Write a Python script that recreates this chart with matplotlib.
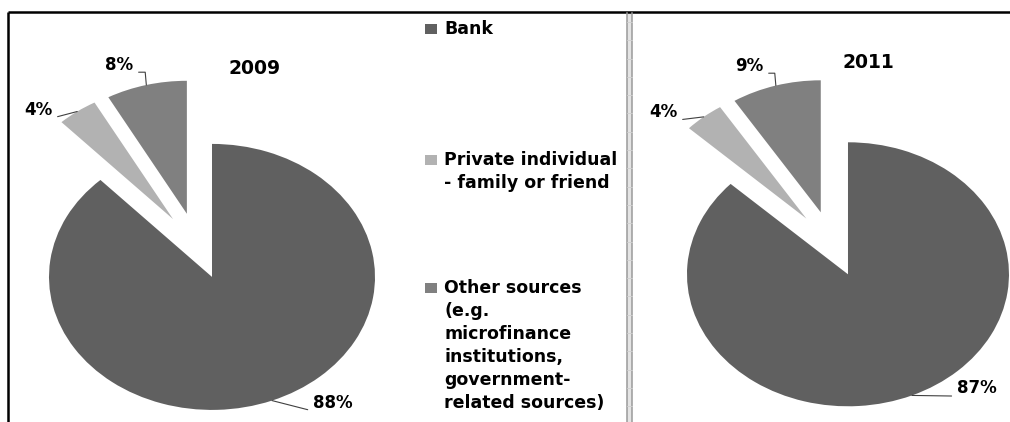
import matplotlib.pyplot as plt
import numpy as np
from matplotlib.patches import Rectangle

# funding sources, shares in percent
categories = ['Bank',
              'Private individual\n- family or friend',
              'Other sources\n(e.g.\nmicrofinance\ninstitutions,\ngovernment-\nrelated sources)']
years = ['2009', '2011']
shares_2009 = [88, 4, 8]
shares_2011 = [87, 4, 9]
colors = ['#606060', '#b2b2b2', '#808080']

W, H = 1010, 422
FONT = 'DejaVu Sans'

fig = plt.figure(figsize=(W / 100, H / 100), dpi=100)
fig.patch.set_facecolor('white')

# overlay in pixel units (y down) for frame and legend
base = fig.add_axes([0, 0, 1, 1])
base.set_xlim(0, W)
base.set_ylim(H, 0)
base.axis('off')

base.plot([8, W], [12, 12], color='black', lw=1.8, solid_capstyle='butt')
base.plot([8, 8], [12, H], color='black', lw=1.8, solid_capstyle='butt')

# divider between the two charts
base.add_patch(Rectangle((627, 13), 4.5, H - 13, facecolor='#e4e4e4', edgecolor='none'))
base.plot([627, 627], [13, H], color='#9a9a9a', lw=1.1)
base.plot([631.5, 631.5], [13, H], color='#9a9a9a', lw=1.1)
for yy in np.arange(22, H, 18.3):
    base.plot([627, 631.5], [yy, yy], color='#cfcfcf', lw=0.6)

# legend
legend_base = [34, 165, 293]
for name, col, y0 in zip(categories, colors, legend_base):
    base.add_patch(Rectangle((425, y0 - 10), 12, 9.5, facecolor=col, edgecolor='none'))
    for i, line in enumerate(name.split('\n')):
        base.text(444, y0 + i * 23, line, fontsize=12.5, fontweight='bold',
                  family=FONT, ha='left', va='baseline', color='black')


def draw_pie(shares, year, cx, cy, rx, ry, label_pos, title_pos):
    # axes sized so one data unit is rx px wide and ry px tall
    span = 1.6
    ax = fig.add_axes([(cx - span * rx) / W, (H - cy - span * ry) / H,
                       2 * span * rx / W, 2 * span * ry / H])
    ax.patch.set_visible(False)
    wedges, _ = ax.pie(shares, colors=colors, startangle=90, counterclock=False,
                       explode=[0.25] * len(shares), radius=1,
                       wedgeprops=dict(linewidth=0))
    ax.set_xlim(-span, span)
    ax.set_ylim(-span, span)
    ax.set_aspect('auto')
    ax.axis('off')

    for w, val, (tx, ty, rel, conn) in zip(wedges, shares, label_pos):
        mid = np.deg2rad((w.theta1 + w.theta2) / 2)
        px = w.center[0] + w.r * np.cos(mid)
        py = w.center[1] + w.r * np.sin(mid)
        ax.annotate(f'{val}%', xy=(px, py), xytext=(tx, H - ty),
                    textcoords='figure pixels', ha='center', va='baseline',
                    fontsize=12, fontweight='bold', family=FONT, color='black',
                    annotation_clip=False,
                    arrowprops=dict(arrowstyle='-', color='#404040', lw=0.8,
                                    relpos=rel, connectionstyle=conn,
                                    shrinkA=2, shrinkB=0))

    fig.text(title_pos[0] / W, 1 - title_pos[1] / H, year, ha='center', va='baseline',
             fontsize=13.5, fontweight='bold', family=FONT, color='black')


draw_pie(shares_2009, years[0], 197, 246, 163, 133,
         [(333, 408, (0, 0.05), 'arc3'),
          (38, 115, (1, 0.05), 'arc3'),
          (119, 70, (1, 0.1), 'angle,angleA=0,angleB=95,rad=0')],
         (255, 74))

draw_pie(shares_2011, years[1], 832, 244, 161, 132,
         [(977, 393, (0, 0.05), 'arc3'),
          (663, 117, (1, 0.05), 'arc3'),
          (749, 71, (1, 0.1), 'angle,angleA=0,angleB=95,rad=0')],
         (868, 68))

fig.savefig('out.png', dpi=100, facecolor='white')
